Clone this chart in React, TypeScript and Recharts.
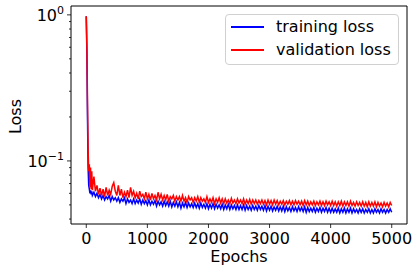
import React from 'react';
import { LineChart, Line, XAxis, YAxis, ReferenceArea } from 'recharts';

// epochs at which the loss curves were sampled
const epochs = [
  0, 10, 20, 30, 40, 50, 60, 70, 80, 90, 100,
  125, 150, 175, 200, 225, 250,
  275, 300, 325, 350, 375, 400, 425, 450, 475, 500,
  525, 550, 575, 600, 625, 650, 675, 700, 725, 750,
  775, 800, 825, 850, 875, 900, 925, 950, 975, 1000,
  1025, 1050, 1075, 1100, 1125, 1150, 1175, 1200, 1225, 1250,
  1275, 1300, 1325, 1350, 1375, 1400, 1425, 1450, 1475, 1500,
  1525, 1550, 1575, 1600, 1625, 1650, 1675, 1700, 1725, 1750,
  1775, 1800, 1825, 1850, 1875, 1900, 1925, 1950, 1975, 2000,
  2025, 2050, 2075, 2100, 2125, 2150, 2175, 2200, 2225, 2250,
  2275, 2300, 2325, 2350, 2375, 2400, 2425, 2450, 2475, 2500,
  2525, 2550, 2575, 2600, 2625, 2650, 2675, 2700, 2725, 2750,
  2775, 2800, 2825, 2850, 2875, 2900, 2925, 2950, 2975, 3000,
  3025, 3050, 3075, 3100, 3125, 3150, 3175, 3200, 3225, 3250,
  3275, 3300, 3325, 3350, 3375, 3400, 3425, 3450, 3475, 3500,
  3525, 3550, 3575, 3600, 3625, 3650, 3675, 3700, 3725, 3750,
  3775, 3800, 3825, 3850, 3875, 3900, 3925, 3950, 3975, 4000,
  4025, 4050, 4075, 4100, 4125, 4150, 4175, 4200, 4225, 4250,
  4275, 4300, 4325, 4350, 4375, 4400, 4425, 4450, 4475, 4500,
  4525, 4550, 4575, 4600, 4625, 4650, 4675, 4700, 4725, 4750,
  4775, 4800, 4825, 4850, 4875, 4900, 4925, 4950, 4975, 5000,
];

const trainLoss = [
  0.98, 0.55, 0.2, 0.09, 0.068, 0.064, 0.06, 0.063, 0.059, 0.062, 0.058,
  0.061, 0.057, 0.06, 0.056, 0.059, 0.055,
  0.058, 0.054, 0.057, 0.055, 0.058, 0.053, 0.057, 0.054, 0.056, 0.053,
  0.056, 0.052, 0.055, 0.053, 0.056, 0.051, 0.055, 0.052, 0.054, 0.051,
  0.055, 0.051, 0.054, 0.0515, 0.055, 0.0505, 0.054, 0.051, 0.0535, 0.05,
  0.054, 0.05, 0.053, 0.0505, 0.0535, 0.049, 0.053, 0.05, 0.0525, 0.049,
  0.053, 0.0495, 0.0525, 0.049, 0.053, 0.0485, 0.052, 0.049, 0.0525, 0.0485,
  0.052, 0.0475, 0.0515, 0.0485, 0.052, 0.048, 0.0515, 0.0485, 0.051, 0.048,
  0.0515, 0.048, 0.051, 0.0475, 0.0515, 0.048, 0.0505, 0.0475, 0.051, 0.047,
  0.0505, 0.0475, 0.051, 0.047, 0.0505, 0.0475, 0.05, 0.047, 0.0505, 0.0465,
  0.05, 0.047, 0.0505, 0.0465, 0.05, 0.047, 0.0495, 0.0465, 0.05, 0.0465,
  0.0495, 0.0465, 0.05, 0.046, 0.0495, 0.0465, 0.049, 0.046, 0.0495, 0.0465,
  0.049, 0.046, 0.0495, 0.0465, 0.049, 0.046, 0.0495, 0.0455, 0.049, 0.046,
  0.049, 0.0455, 0.0485, 0.046, 0.049, 0.0455, 0.0485, 0.0455, 0.049, 0.045,
  0.0485, 0.0455, 0.048, 0.045, 0.0485, 0.0455, 0.048, 0.045, 0.0485, 0.0455,
  0.048, 0.045, 0.0485, 0.0445, 0.048, 0.045, 0.0475, 0.045, 0.048, 0.0445,
  0.0475, 0.045, 0.048, 0.0445, 0.0475, 0.045, 0.048, 0.0445, 0.0475, 0.0445,
  0.0475, 0.0445, 0.047, 0.0445, 0.0475, 0.044, 0.047, 0.0445, 0.0475, 0.044,
  0.047, 0.0445, 0.0475, 0.044, 0.047, 0.0445, 0.0465, 0.044, 0.047, 0.0445,
  0.047, 0.044, 0.0465, 0.0445, 0.047, 0.044, 0.0465, 0.044, 0.047, 0.0445,
  0.0465, 0.044, 0.047, 0.0445, 0.0465, 0.044, 0.0465, 0.0445, 0.047, 0.0445,
];

const valLoss = [
  0.98, 0.6, 0.25, 0.12, 0.085, 0.095, 0.066, 0.09, 0.064, 0.085, 0.063,
  0.078, 0.062, 0.068, 0.059, 0.065, 0.058,
  0.064, 0.057, 0.066, 0.058, 0.063, 0.059, 0.067, 0.071, 0.062, 0.058,
  0.068, 0.058, 0.064, 0.056, 0.061, 0.057, 0.063, 0.056, 0.066, 0.058,
  0.062, 0.056, 0.06, 0.055, 0.062, 0.057, 0.059, 0.055, 0.061, 0.055,
  0.059, 0.054, 0.06, 0.055, 0.058, 0.054, 0.061, 0.055, 0.059, 0.054,
  0.058, 0.054, 0.059, 0.053, 0.057, 0.055, 0.058, 0.053, 0.057, 0.054,
  0.057, 0.053, 0.058, 0.053, 0.056, 0.052, 0.057, 0.054, 0.056, 0.052,
  0.056, 0.053, 0.057, 0.052, 0.056, 0.053, 0.055, 0.052, 0.057, 0.052,
  0.055, 0.052, 0.056, 0.051, 0.055, 0.052, 0.056, 0.0515, 0.055, 0.051,
  0.055, 0.0515, 0.054, 0.051, 0.0555, 0.0515, 0.054, 0.051, 0.055, 0.0515,
  0.054, 0.051, 0.055, 0.0505, 0.054, 0.051, 0.0545, 0.0505, 0.054, 0.051,
  0.054, 0.0505, 0.0535, 0.051, 0.054, 0.0505, 0.0535, 0.05, 0.054, 0.0505,
  0.0535, 0.05, 0.054, 0.0505, 0.0535, 0.05, 0.053, 0.0505, 0.0535, 0.05,
  0.053, 0.0505, 0.0535, 0.05, 0.053, 0.05, 0.0535, 0.0505, 0.053, 0.05,
  0.053, 0.0495, 0.0535, 0.05, 0.053, 0.0495, 0.0525, 0.05, 0.053, 0.0495,
  0.0525, 0.05, 0.053, 0.0495, 0.0525, 0.0495, 0.053, 0.05, 0.0525, 0.0495,
  0.053, 0.0495, 0.0525, 0.049, 0.0525, 0.0495, 0.053, 0.049, 0.0525, 0.0495,
  0.0525, 0.049, 0.053, 0.0495, 0.052, 0.049, 0.0525, 0.0495, 0.052, 0.049,
  0.0525, 0.049, 0.052, 0.0485, 0.0525, 0.049, 0.052, 0.049, 0.0525, 0.0485,
  0.052, 0.049, 0.0515, 0.0485, 0.052, 0.049, 0.0515, 0.0485, 0.052, 0.0495,
];

const xTicks = [0, 1000, 2000, 3000, 4000, 5000];
const yTicks = [0.04, 0.05, 0.06, 0.07, 0.08, 0.09, 0.1, 0.2, 0.3, 0.4, 0.5, 0.6, 0.7, 0.8, 0.9, 1];
const yLabels: Record<string, string> = { '1': '0', '0.1': '\u22121' };

const X_DOMAIN: [number, number] = [-250, 5250];
const Y_DOMAIN: [number, number] = [0.037, 1.15];
const FONT = '"DejaVu Sans", sans-serif';

const data = epochs.map((e, i) => ({ epoch: e, train: trainLoss[i], val: valLoss[i] }));

// log axis tick: major ticks get a 10^n label, minor ones only a short mark
const LogTick = (props: any) => {
  const { x, y, payload } = props;
  const exp = yLabels[String(payload.value)];
  const len = exp ? 4 : 2;
  return (
    <g>
      <line x1={x - len} x2={x} y1={y} y2={y} stroke="#000" strokeWidth={0.8} />
      {exp && (
        <text x={x - 7} y={y + 6} textAnchor="end" fontSize={16} fontFamily={FONT} fill="#000">
          10<tspan dy={-7} fontSize={11}>{exp}</tspan>
        </text>
      )}
    </g>
  );
};

const legendItems = [
  { name: 'training loss', color: '#0000ff' },
  { name: 'validation loss', color: '#ff0000' },
];

export default function App() {
  return (
    <div style={{ position: 'fixed', left: 0, top: 0, width: 418, height: 272, background: '#fff', fontFamily: FONT }}>
      <LineChart width={418} height={272} data={data} margin={{ top: 6, right: 11, bottom: 0, left: 11 }}>
        <XAxis
          dataKey="epoch"
          type="number"
          domain={X_DOMAIN}
          ticks={xTicks}
          interval={0}
          height={48}
          axisLine={false}
          tickLine={{ stroke: '#000', strokeWidth: 0.8 }}
          tickSize={4}
          tickMargin={5}
          tick={{ fill: '#000', fontSize: 16, fontFamily: FONT }}
          label={{
            content: () => (
              <text x={239} y={262} textAnchor="middle" fontSize={16} fontFamily={FONT} fill="#000">
                Epochs
              </text>
            ),
          }}
        />
        <YAxis
          type="number"
          scale="log"
          domain={Y_DOMAIN}
          allowDataOverflow
          ticks={yTicks}
          interval={0}
          width={60}
          axisLine={false}
          tickLine={false}
          tickSize={0}
          tickMargin={0}
          tick={<LogTick />}
          label={{
            content: () => (
              <text
                x={20.5}
                y={116.5}
                transform="rotate(-90 20.5 116.5)"
                textAnchor="middle"
                fontSize={16}
                fontFamily={FONT}
                fill="#000"
              >
                Loss
              </text>
            ),
          }}
        />
        <Line type="linear" dataKey="train" stroke="#0000ff" strokeWidth={1.5} dot={false} isAnimationActive={false} />
        <Line type="linear" dataKey="val" stroke="#ff0000" strokeWidth={1.5} dot={false} isAnimationActive={false} />
        <ReferenceArea
          x1={X_DOMAIN[0]}
          x2={X_DOMAIN[1]}
          y1={Y_DOMAIN[0]}
          y2={Y_DOMAIN[1]}
          fill="none"
          stroke="#000"
          strokeWidth={1}
          ifOverflow="visible"
        />
      </LineChart>
      <div
        style={{
          position: 'absolute',
          left: 225,
          top: 14,
          width: 172,
          height: 49,
          border: '1px solid #d0d0d0',
          borderRadius: 4,
          background: 'rgba(255,255,255,0.8)',
        }}
      >
        {legendItems.map((item) => (
          <div key={item.name} style={{ display: 'flex', alignItems: 'center', height: 23.3 }}>
            <span style={{ display: 'inline-block', width: 33, height: 2, marginLeft: 5, background: item.color }} />
            <span style={{ marginLeft: 12, fontSize: 16, color: '#000', lineHeight: '16px' }}>{item.name}</span>
          </div>
        ))}
      </div>
    </div>
  );
}
